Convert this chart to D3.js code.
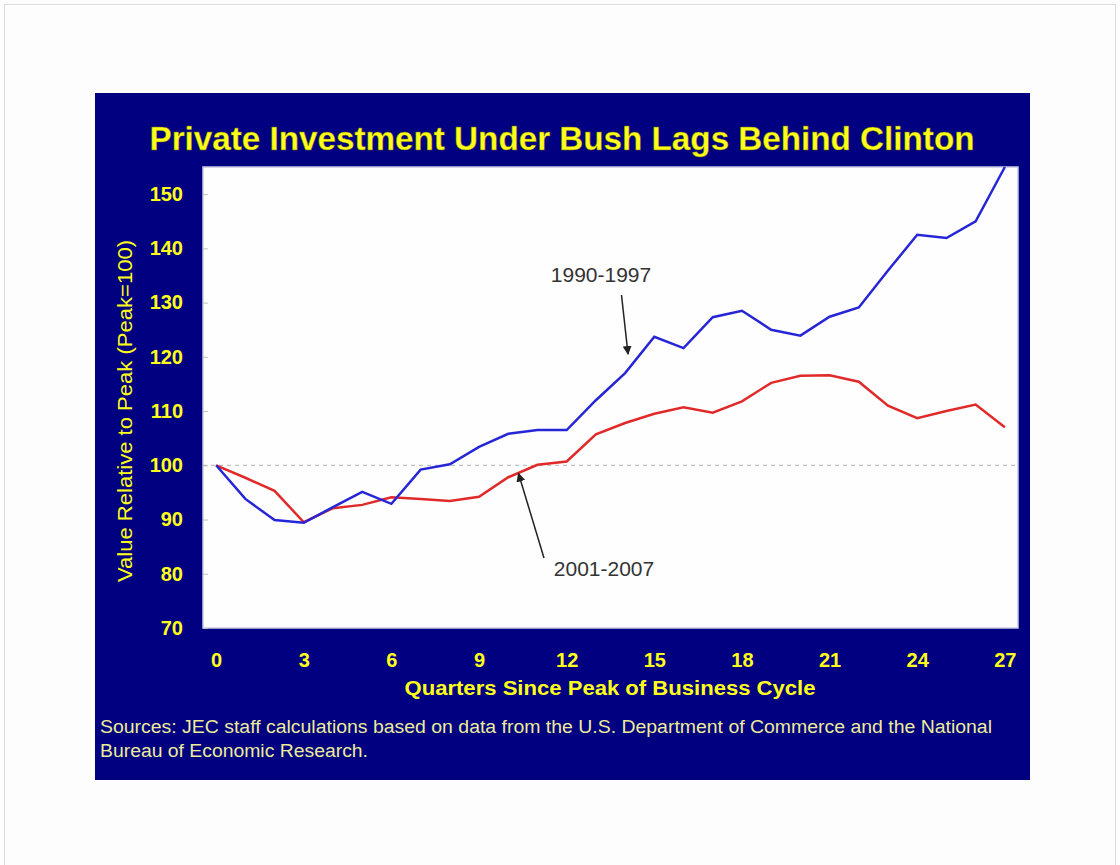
<!DOCTYPE html>
<html>
<head>
<meta charset="utf-8">
<script src="https://cdn.jsdelivr.net/npm/d3@7"></script>
<style>
  html, body { margin: 0; padding: 0; background: #fdfdfd; }
  svg text { font-family: "Liberation Sans", Arial, sans-serif; }
</style>
</head>
<body>
<div class="chart"></div>
<script>
// quarters since peak
const quarters = d3.range(0, 28);

// 1990-1997 cycle (Clinton)
const clintonValues = [100, 93.8, 89.9, 89.4, 92.3, 95.1, 92.9, 99.2, 100.2, 103.4, 105.8, 106.5, 106.5,
	112.0, 117.0, 123.7, 121.6, 127.3, 128.5, 125.0, 123.9, 127.4, 129.1, 135.9, 142.5, 141.9, 145.0, 155.0];

// 2001-2007 cycle (Bush)
const bushValues = [100, 97.7, 95.3, 89.5, 92.1, 92.7, 94.1, 93.8, 93.4, 94.2, 97.8, 100.1, 100.7,
	105.7, 107.8, 109.5, 110.7, 109.7, 111.8, 115.2, 116.5, 116.6, 115.4, 111.0, 108.7, 110.0, 111.2, 107.0];

const yTicks = [70, 80, 90, 100, 110, 120, 130, 140, 150];
const xTicks = [0, 3, 6, 9, 12, 15, 18, 21, 24, 27];

const titleText = "Private Investment Under Bush Lags Behind Clinton";
const xTitle = "Quarters Since Peak of Business Cycle";
const yTitle = "Value Relative to Peak (Peak=100)";
const sourceLines = [
	"Sources: JEC staff calculations based on data from the U.S. Department of Commerce and the National",
	"Bureau of Economic Research."
];

const W = 1120, H = 865;
const navy = "#000080";
const yellow = "#ffff1a";

const svg = d3.select(".chart").append("svg")
	.attr("width", W)
	.attr("height", H);

// page frame
svg.append("rect")
	.attr("x", 4.5).attr("y", 4.5)
	.attr("width", W - 9).attr("height", H - 4)
	.attr("fill", "#fdfdfd")
	.attr("stroke", "#dcdcdc");

// navy slide panel
svg.append("rect")
	.attr("x", 95).attr("y", 93)
	.attr("width", 935).attr("height", 687)
	.attr("fill", navy);

const plot = { left: 203, right: 1018, top: 167, bottom: 628 };

const x = d3.scaleLinear().domain([-0.45, 27.45]).range([plot.left, plot.right]);
const y = d3.scaleLinear().domain([70, 155]).range([plot.bottom, plot.top]);

// plot background
svg.append("rect")
	.attr("x", plot.left).attr("y", plot.top)
	.attr("width", plot.right - plot.left).attr("height", plot.bottom - plot.top)
	.attr("fill", "#fefefe")
	.attr("stroke", "#c8c8e0")
	.attr("stroke-width", 1.5);

svg.append("text")
	.attr("x", 562).attr("y", 150)
	.attr("text-anchor", "middle")
	.attr("fill", yellow)
	.attr("font-size", 33)
	.attr("font-weight", "bold")
	.attr("textLength", 825)
	.attr("lengthAdjust", "spacingAndGlyphs")
	.attr("stroke", "#6b6b00")
	.attr("stroke-width", 0.4)
	.text(titleText);

// y axis
const yAxis = svg.append("g")
	.attr("transform", `translate(${plot.left},0)`)
	.call(d3.axisLeft(y).tickValues(yTicks).tickSize(-5).tickPadding(20));
yAxis.select(".domain").remove();
yAxis.selectAll("line").attr("stroke", "#c0c0c0");
yAxis.selectAll("text")
	.attr("fill", yellow)
	.attr("font-size", 20)
	.attr("font-weight", "bold")
	.attr("font-family", "Liberation Sans, Arial, sans-serif");

// x axis (labels only)
const xAxis = svg.append("g")
	.attr("transform", `translate(0,${plot.bottom})`)
	.call(d3.axisBottom(x).tickValues(xTicks).tickSize(0).tickPadding(25));
xAxis.select(".domain").remove();
xAxis.selectAll("text")
	.attr("fill", yellow)
	.attr("font-size", 20)
	.attr("font-weight", "bold")
	.attr("font-family", "Liberation Sans, Arial, sans-serif");

svg.append("text")
	.attr("x", 610).attr("y", 695)
	.attr("text-anchor", "middle")
	.attr("fill", yellow)
	.attr("font-size", 20)
	.attr("font-weight", "bold")
	.attr("textLength", 411)
	.attr("lengthAdjust", "spacingAndGlyphs")
	.text(xTitle);

svg.append("text")
	.attr("transform", `translate(132,411) rotate(-90)`)
	.attr("text-anchor", "middle")
	.attr("fill", yellow)
	.attr("font-size", 20)
	.attr("textLength", 342)
	.attr("lengthAdjust", "spacingAndGlyphs")
	.text(yTitle);

// reference line at peak
svg.append("line")
	.attr("x1", plot.left).attr("x2", plot.right)
	.attr("y1", y(100)).attr("y2", y(100))
	.attr("stroke", "#b0b0b0")
	.attr("stroke-dasharray", "4,4");

const line = d3.line()
	.x((d, i) => x(quarters[i]))
	.y((d) => y(d));

svg.append("path")
	.datum(bushValues)
	.attr("fill", "none")
	.attr("stroke", "#e02a2a")
	.attr("stroke-width", 2.5)
	.attr("d", line);

svg.append("path")
	.datum(clintonValues)
	.attr("fill", "none")
	.attr("stroke", "#2626d6")
	.attr("stroke-width", 2.5)
	.attr("d", line);

// annotations
svg.append("defs").append("marker")
	.attr("id", "arrow")
	.attr("viewBox", "0 0 10 10")
	.attr("refX", 9).attr("refY", 5)
	.attr("markerWidth", 6).attr("markerHeight", 6)
	.attr("orient", "auto")
	.append("path")
	.attr("d", "M0,0 L10,5 L0,10 z")
	.attr("fill", "#222");

svg.append("text")
	.attr("x", 601).attr("y", 282)
	.attr("text-anchor", "middle")
	.attr("fill", "#333")
	.attr("font-size", 21)
	.text("1990-1997");
svg.append("line")
	.attr("x1", 621.5).attr("y1", 295)
	.attr("x2", x(14.1)).attr("y2", y(120.5))
	.attr("stroke", "#222").attr("stroke-width", 1.5)
	.attr("marker-end", "url(#arrow)");

svg.append("text")
	.attr("x", 604).attr("y", 576)
	.attr("text-anchor", "middle")
	.attr("fill", "#333")
	.attr("font-size", 21)
	.text("2001-2007");
svg.append("line")
	.attr("x1", 544).attr("y1", 558)
	.attr("x2", x(10.35)).attr("y2", y(98.5))
	.attr("stroke", "#222").attr("stroke-width", 1.5)
	.attr("marker-end", "url(#arrow)");

// sources note
svg.append("g")
	.selectAll("text")
	.data(sourceLines)
	.join("text")
	.attr("x", 100)
	.attr("y", (d, i) => 733 + i * 24)
	.attr("fill", "#ecec9a")
	.attr("font-size", 18)
	.attr("textLength", (d, i) => (i === 0 ? 892 : 268))
	.attr("lengthAdjust", "spacingAndGlyphs")
	.text((d) => d);
</script>
</body>
</html>
